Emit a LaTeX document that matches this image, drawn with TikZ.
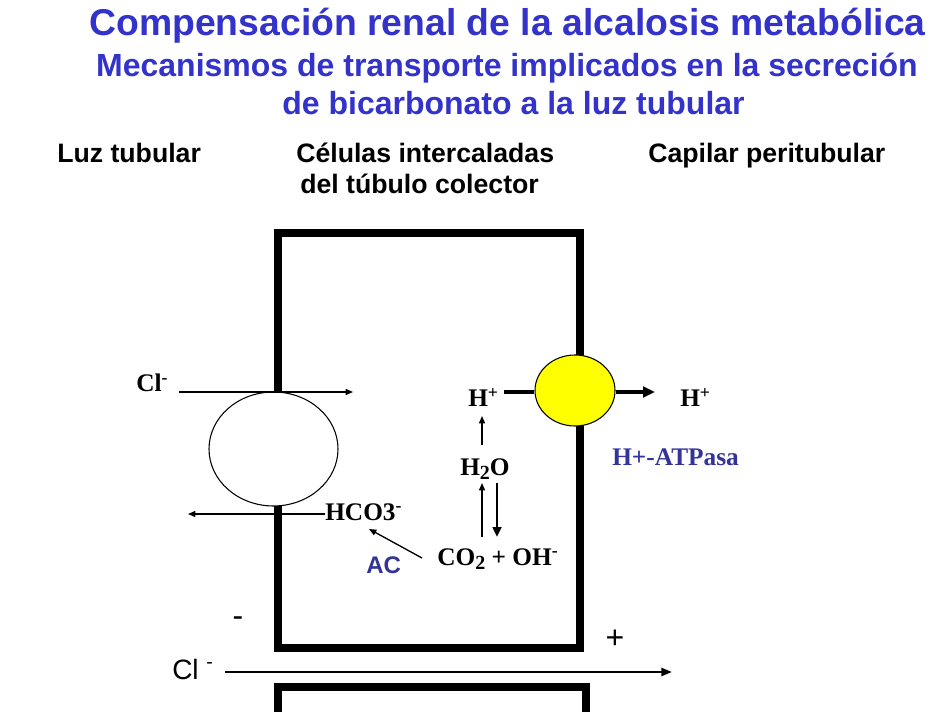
\documentclass[tikz,border=0pt]{standalone}
\usepackage{fontspec}
\setmainfont{Liberation Serif}
\setsansfont{Liberation Sans}
\usetikzlibrary{shapes.geometric,arrows.meta}
\definecolor{titleblue}{RGB}{51,51,204}
\definecolor{labelblue}{RGB}{51,51,153}
\definecolor{pumpyellow}{RGB}{255,255,0}
\newcommand{\lowtwo}{\raisebox{-0.4ex}{\fontsize{15}{17}\selectfont 2}}
\begin{document}
\begin{tikzpicture}[x=0.75pt,y=-0.75pt,
  titletext/.style={font=\sffamily\bfseries\fontsize{24}{28}\selectfont, text=titleblue, inner sep=0, anchor=base},
  header/.style={font=\sffamily\bfseries\fontsize{20}{24}\selectfont, inner sep=0, anchor=base west},
  chem/.style={font=\rmfamily\bfseries\fontsize{19}{22}\selectfont, inner sep=0, anchor=base west},
  wall/.style={line width=6pt, line join=miter},
  thinarrow/.style={line width=1pt, -{Triangle[length=5.5pt,width=4.5pt]}},
  thickline/.style={line width=3pt},
  thickarrow/.style={line width=3pt, -{Triangle[length=9pt,width=8pt]}},
  medarrow/.style={line width=2.2pt, -{Triangle[length=7.5pt,width=6.5pt]}},
  sign/.style={font=\sffamily\fontsize{24}{28}\selectfont, inner sep=0}
]
\useasboundingbox[fill=white] (0,0) rectangle (949,712);

% titles
\node[titletext, font=\sffamily\bfseries\fontsize{28}{32}\selectfont] (t1) at (507.5,36) {Compensación renal de la alcalosis metabólica};
\node[titletext] (t2) at (507,77) {Mecanismos de transporte implicados en la secreción};
\node[titletext] (t3) at (513.5,115) {de bicarbonato a la luz tubular};

% headers
\node[header] (h1) at (57,163) {Luz tubular};
\node[header] (h2) at (296,163) {Células intercaladas};
\node[header] (h3) at (300,194) {del túbulo colector};
\node[header] (h4) at (648,163) {Capilar peritubular};

% cell walls
\draw[wall] (278,648) -- (278,233) -- (579.5,233) -- (579.5,648) -- cycle;
\begin{scope}
\clip (0,0) rectangle (949,712);
\draw[wall] (278,730) -- (278,687) -- (586,687) -- (586,730);
\end{scope}

% transporters
\node[ellipse, draw, line width=0.8pt, fill=white, minimum width=96.75pt, minimum height=85.5pt, inner sep=0] (exch) at (273.5,449) {};
\node[ellipse, draw, line width=0.8pt, fill=pumpyellow, minimum width=60pt, minimum height=53.25pt, inner sep=0] (pump) at (575,390.5) {};

% labels
\node[chem] (cl) at (136,392) {Cl\textsuperscript{-}};
\node[chem] (hco) at (325,520) {HCO3\textsuperscript{-}};
\node[chem] (co2) at (437,565) {CO\lowtwo{} + OH\textsuperscript{-}};
\node[chem] (h2o) at (460,475) {H\lowtwo O};
\node[chem] (hl) at (468,407) {H\textsuperscript{+}};
\node[chem] (hr) at (680,407) {H\textsuperscript{+}};
\node[chem, text=labelblue] (atp) at (612,465) {H+-ATPasa};
\node[font=\sffamily\bfseries\fontsize{18}{22}\selectfont, text=labelblue, inner sep=0, anchor=base west] (ac) at (366,573) {AC};
\node[font=\sffamily\fontsize{21}{24}\selectfont, inner sep=0, anchor=base west] (clb) at (172,679) {Cl \textsuperscript{-}};
\node[sign] (minus) at (238,622) {-};
\node[sign] (plus) at (615,639.5) {+};

% coordinates
\coordinate (clin) at (179,392);
\coordinate (clout) at (353,392);
\coordinate (hcoend) at (325,514);
\coordinate (hcoout) at (188,514);
\coordinate (actail) at (422,558);
\coordinate (actip) at (369,529);
\coordinate (h2otop) at (482,445);
\coordinate (hltip) at (482,416);
\coordinate (co2up) at (482,537);
\coordinate (h2obot) at (482,483);
\coordinate (downtop) at (497,483);
\coordinate (downbot) at (497,537);
\coordinate (hline) at (504,392);
\coordinate (hrtip) at (655,392);
\coordinate (clbstart) at (225,672);
\coordinate (clbend) at (672,672);

% connectors
\draw[thinarrow] (clin) -- (clout);
\draw[thinarrow] (hcoend) -- (hcoout);
\draw[thinarrow] (actail) -- (actip);
\draw[thinarrow] (h2otop) -- (hltip);
\draw[thinarrow] (co2up) -- (h2obot);
\draw[medarrow] (downtop) -- (downbot);
\draw[thickline] (hline) -- (hline -| pump.west);
\draw[thickarrow] (hrtip -| pump.east) -- (hrtip);
\draw[line width=1.8pt, -{Triangle[length=8pt,width=6pt]}] (clbstart) -- (clbend);
\end{tikzpicture}
\end{document}
